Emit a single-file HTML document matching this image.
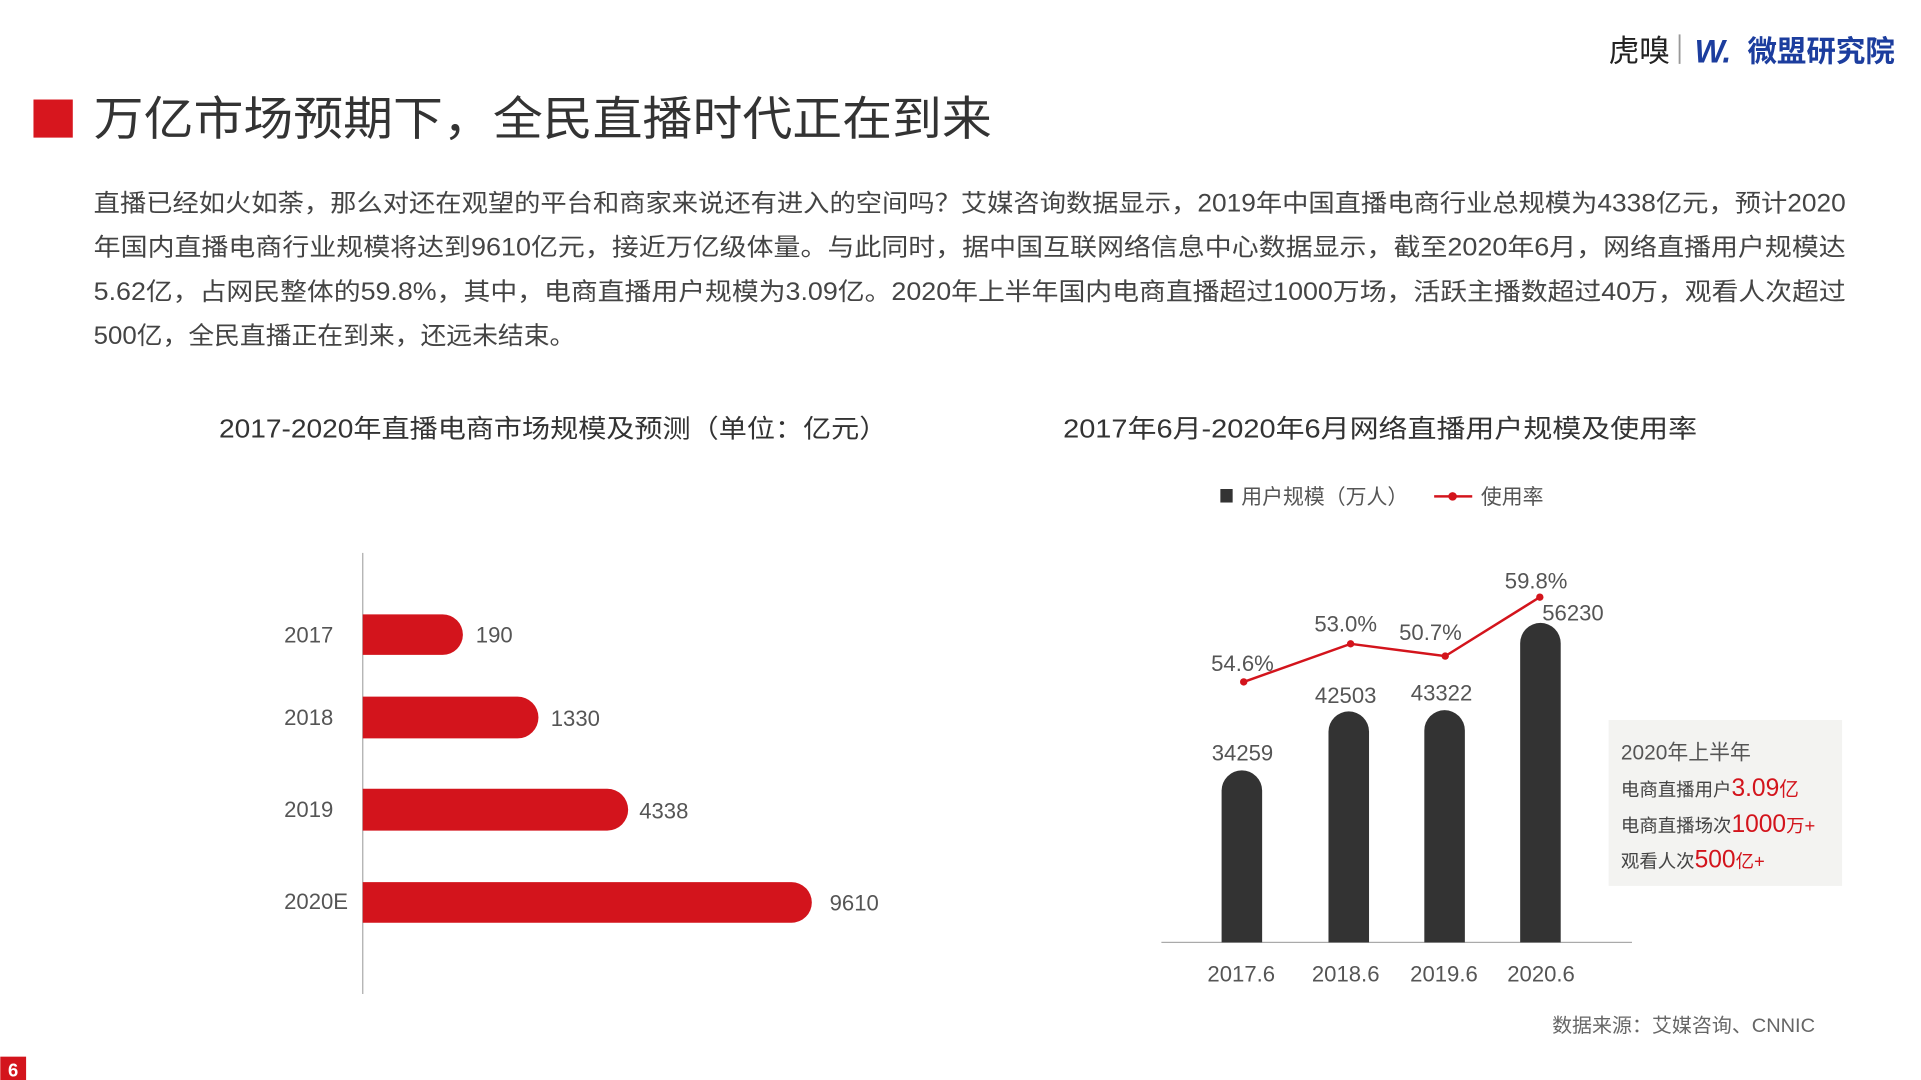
<!DOCTYPE html>
<html><head><meta charset="utf-8"><style>
html,body{margin:0;padding:0;background:#fff;width:1921px;height:1080px;overflow:hidden}
svg{display:block}
text{font-family:"Liberation Sans","Noto Sans CJK SC",sans-serif}
</style></head><body>
<svg width="1921" height="1080" viewBox="0 0 1563 879" xmlns="http://www.w3.org/2000/svg">
<rect width="1563" height="879" fill="#fff"/>
<!-- logos -->
<text x="1309" y="50" font-size="25" fill="#222" font-family="Liberation Serif,Noto Serif CJK SC,serif">虎嗅</text>
<rect x="1366" y="28" width="1.5" height="24" fill="#999"/>
<text x="1379" y="51" font-size="26" font-weight="bold" font-style="italic" fill="#1c3d9e">W.</text>
<text x="1422" y="50" font-size="24" font-weight="bold" fill="#1c3d9e">微盟研究院</text>
<!-- title -->
<rect x="27" y="81" width="32" height="31" fill="#d7161e"/>
<text x="76" y="110" font-size="38" fill="#333" textLength="731" lengthAdjust="spacingAndGlyphs">万亿市场预期下，全民直播时代正在到来</text>
<!-- paragraph -->
<g font-size="20" fill="#444">
<text x="76" y="172" textLength="1426" lengthAdjust="spacingAndGlyphs">直播已经如火如荼，那么对还在观望的平台和商家来说还有进入的空间吗？艾媒咨询数据显示，2019年中国直播电商行业总规模为4338亿元，预计2020</text>
<text x="76" y="208" textLength="1426" lengthAdjust="spacingAndGlyphs">年国内直播电商行业规模将达到9610亿元，接近万亿级体量。与此同时，据中国互联网络信息中心数据显示，截至2020年6月，网络直播用户规模达</text>
<text x="76" y="244" textLength="1426" lengthAdjust="spacingAndGlyphs">5.62亿，占网民整体的59.8%，其中，电商直播用户规模为3.09亿。2020年上半年国内电商直播超过1000万场，活跃主播数超过40万，观看人次超过</text>
<text x="76" y="280" textLength="392" lengthAdjust="spacingAndGlyphs">500亿，全民直播正在到来，还远未结束。</text>
</g>
<!-- chart titles -->
<text x="178" y="356" font-size="21" fill="#333" textLength="544" lengthAdjust="spacingAndGlyphs">2017-2020年直播电商市场规模及预测（单位：亿元）</text>
<text x="865" y="356" font-size="21" fill="#333" textLength="516" lengthAdjust="spacingAndGlyphs">2017年6月-2020年6月网络直播用户规模及使用率</text>
<!-- left chart -->
<rect x="294.5" y="450" width="1" height="359" fill="#aaa"/>
<g fill="#d3141c">
<path d="M295 500H360A16.5 16.5 0 0 1 360 533H295Z"/>
<path d="M295 567H421A17 17 0 0 1 421 601H295Z"/>
<path d="M295 642H494A17 17 0 0 1 494 676H295Z"/>
<path d="M295 718H644A16.5 16.5 0 0 1 644 751H295Z"/>
</g>
<g font-size="18" fill="#555">
<text x="231" y="523">2017</text><text x="231" y="590">2018</text>
<text x="231" y="665">2019</text><text x="231" y="740">2020E</text>
<text x="387" y="523">190</text><text x="448" y="591">1330</text>
<text x="520" y="666">4338</text><text x="675" y="741">9610</text>
</g>
<!-- right legend -->
<rect x="993" y="398" width="10" height="11" fill="#333"/>
<text x="1010" y="410" font-size="17" fill="#555">用户规模（万人）</text>
<rect x="1167" y="403" width="31" height="2" fill="#d3141c"/>
<circle cx="1182" cy="404" r="3.5" fill="#d3141c"/>
<text x="1205" y="410" font-size="17" fill="#555">使用率</text>
<!-- right bars -->
<rect x="945" y="766.5" width="383" height="1" fill="#aaa"/>
<g fill="#333">
<path d="M994 767V643.5A16.5 16.5 0 0 1 1027 643.5V767Z"/>
<path d="M1081 767V595.5A16.5 16.5 0 0 1 1114 595.5V767Z"/>
<path d="M1159 767V594.5A16.5 16.5 0 0 1 1192 594.5V767Z"/>
<path d="M1237 767V523.5A16.5 16.5 0 0 1 1270 523.5V767Z"/>
</g>
<polyline points="1012,555 1099,524 1176,534 1253,486" fill="none" stroke="#d3141c" stroke-width="2"/>
<g fill="#d3141c"><circle cx="1012" cy="555" r="3"/><circle cx="1099" cy="524" r="3"/><circle cx="1176" cy="534" r="3"/><circle cx="1253" cy="486" r="3"/></g>
<g font-size="18" fill="#555" text-anchor="middle">
<text x="1011" y="619">34259</text><text x="1095" y="572">42503</text>
<text x="1173" y="570">43322</text><text x="1280" y="505">56230</text>
<text x="1011" y="546">54.6%</text><text x="1095" y="514">53.0%</text>
<text x="1164" y="521">50.7%</text><text x="1250" y="479">59.8%</text>
<text x="1010" y="799">2017.6</text><text x="1095" y="799">2018.6</text>
<text x="1175" y="799">2019.6</text><text x="1254" y="799">2020.6</text>
</g>
<!-- box -->
<rect x="1309" y="586" width="190" height="135" fill="#f3f3f1"/>
<text x="1319" y="618" font-size="17" fill="#555">2020年上半年</text>
<text x="1319" y="648" font-size="15" fill="#444">电商直播用户<tspan fill="#d3141c" font-size="20">3.09</tspan><tspan fill="#d3141c" font-size="16">亿</tspan></text>
<text x="1319" y="677" font-size="15" fill="#444">电商直播场次<tspan fill="#d3141c" font-size="20">1000</tspan><tspan fill="#d3141c" font-size="15">万+</tspan></text>
<text x="1319" y="706" font-size="15" fill="#444">观看人次<tspan fill="#d3141c" font-size="20">500</tspan><tspan fill="#d3141c" font-size="15">亿+</tspan></text>
<text x="1263" y="840" font-size="15.5" fill="#666" textLength="214" lengthAdjust="spacingAndGlyphs">数据来源：艾媒咨询、CNNIC</text>
<!-- page number -->
<rect x="0" y="860" width="21" height="19" fill="#d3141c"/>
<text x="10.5" y="876" font-size="15" font-weight="bold" fill="#fff" text-anchor="middle">6</text>
</svg>
</body></html>
